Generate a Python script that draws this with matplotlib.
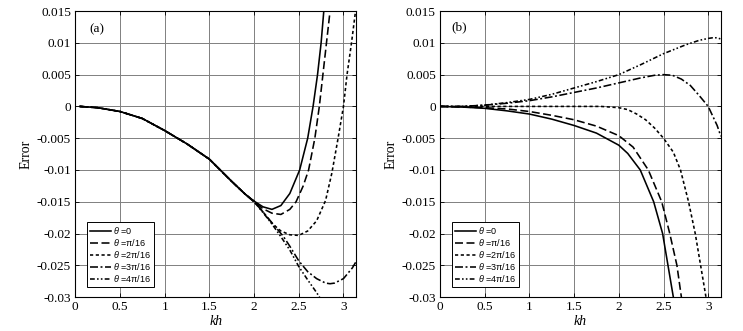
import matplotlib
matplotlib.use("Agg")
import matplotlib.pyplot as plt
import numpy as np

plt.rcParams['font.family'] = ['Liberation Serif', 'DejaVu Serif']
plt.rcParams['mathtext.fontset'] = 'custom'
plt.rcParams['mathtext.rm'] = 'Liberation Sans'
plt.rcParams['mathtext.it'] = 'Liberation Sans:italic'

# ---------------- data: panel (a) ----------------
common_kh = [0.05, 0.25, 0.5, 0.75, 1.0, 1.25, 1.5, 1.75, 1.9]
common_err = [0.0, -0.0002, -0.0008, -0.0019, -0.0038, -0.0059, -0.0083, -0.0118, -0.0138]

a0_kh = common_kh + [2.0, 2.1, 2.2, 2.3, 2.4, 2.51, 2.6, 2.66, 2.71, 2.75, 2.78]
a0_err = common_err + [-0.0149, -0.0158, -0.0162, -0.0156, -0.0137, -0.0100, -0.0050, 0.0, 0.0050, 0.0100, 0.0150]

a1_kh = common_kh + [2.0, 2.1, 2.2, 2.3, 2.4, 2.47, 2.55, 2.61, 2.68, 2.73, 2.77, 2.81, 2.85]
a1_err = common_err + [-0.0150, -0.0161, -0.0168, -0.0170, -0.0162, -0.0150, -0.0125, -0.0100, -0.0050, 0.0, 0.0050, 0.0100, 0.0150]

a2_kh = common_kh + [2.0, 2.1, 2.2, 2.3, 2.4, 2.5, 2.6, 2.7, 2.8, 2.87, 2.94, 3.0, 3.04, 3.09, 3.135]
a2_err = common_err + [-0.0149, -0.0166, -0.0184, -0.0196, -0.0202, -0.0203, -0.0196, -0.0180, -0.0148, -0.0105, -0.0050, 0.0, 0.0050, 0.0100, 0.0150]

a3_kh = common_kh + [2.0, 2.1, 2.2, 2.33, 2.4, 2.5, 2.6, 2.7, 2.8, 2.85, 2.9, 3.0, 3.1, 3.1416]
a3_err = common_err + [-0.0150, -0.0166, -0.0183, -0.0205, -0.0220, -0.0243, -0.0260, -0.0271, -0.0278, -0.0279, -0.0278, -0.0271, -0.0254, -0.0244]

a4_kh = common_kh + [2.0, 2.1, 2.2, 2.3, 2.4, 2.5, 2.6, 2.7, 2.74]
a4_err = common_err + [-0.0150, -0.0167, -0.0185, -0.0205, -0.0226, -0.0252, -0.0273, -0.0293, -0.0302]

# ---------------- data: panel (b) ----------------
b0_kh = [0, 0.25, 0.5, 0.75, 1.0, 1.25, 1.5, 1.75, 2.0, 2.1, 2.24, 2.39, 2.49, 2.55, 2.61]
b0_err = [0, -0.0001, -0.0003, -0.0007, -0.0012, -0.0020, -0.0030, -0.0042, -0.0061, -0.0074, -0.0100, -0.0150, -0.0200, -0.0250, -0.0300]

b1_kh = [0, 0.25, 0.5, 0.75, 1.0, 1.25, 1.5, 1.75, 2.0, 2.16, 2.33, 2.48, 2.57, 2.65, 2.70]
b1_err = [0, -0.0001, -0.0002, -0.0004, -0.0008, -0.0014, -0.0021, -0.0031, -0.0046, -0.0064, -0.0100, -0.0150, -0.0200, -0.0250, -0.0300]

b2_kh = [0, 0.5, 1.0, 1.5, 1.8, 1.9, 2.0, 2.1, 2.2, 2.3, 2.4, 2.5, 2.61, 2.69, 2.78, 2.855, 2.915, 2.975]
b2_err = [0, 0, 0, 0, 0, -0.0001, -0.0002, -0.0005, -0.0012, -0.0021, -0.0034, -0.0050, -0.0072, -0.0100, -0.0150, -0.0200, -0.0250, -0.0300]

b3_kh = [0, 0.25, 0.5, 0.75, 1.0, 1.25, 1.5, 1.75, 2.0, 2.25, 2.4, 2.5, 2.6, 2.7, 2.8, 2.9, 3.0, 3.1, 3.1416]
b3_err = [0, 0.0, 0.0002, 0.0005, 0.0009, 0.0015, 0.0022, 0.0029, 0.0037, 0.0045, 0.0049, 0.0050, 0.0049, 0.0043, 0.0033, 0.0017, 0.0, -0.0030, -0.0047]

b4_kh = [0, 0.25, 0.5, 0.75, 1.0, 1.25, 1.5, 1.75, 2.0, 2.25, 2.5, 2.75, 2.9, 3.0, 3.05, 3.1, 3.1416]
b4_err = [0, 0.0, 0.0002, 0.0006, 0.0011, 0.0019, 0.0029, 0.0039, 0.0050, 0.0066, 0.0083, 0.0097, 0.0104, 0.0107, 0.0108, 0.0108, 0.0106]

labels = [r"$\theta$ =0", r"$\theta$ =π/16", r"$\theta$ =2π/16", r"$\theta$ =3π/16", r"$\theta$ =4π/16"]
yticks = [-0.03, -0.025, -0.02, -0.015, -0.01, -0.005, 0, 0.005, 0.01, 0.015]
ytick_labels = ['-0.03', '-0.025', '-0.02', '-0.015', '-0.01', '-0.005', '0', '0.005', '0.01', '0.015']
xticks = [0, 0.5, 1, 1.5, 2, 2.5, 3]
xtick_labels = ['0', '0.5', '1', '1.5', '2', '2.5', '3']

styles = [
    dict(linestyle='-'),
    dict(linestyle=(0, (5, 2.2))),
    dict(linestyle=(0, (2, 1.6))),
    dict(linestyle=(0, (5, 1.6, 1.2, 1.6))),
    dict(linestyle=(0, (3, 1.4, 1.0, 1.4, 1.0, 1.4))),
]

fig = plt.figure(figsize=(7.43, 3.31), dpi=100)
ax_a = fig.add_axes([0.1013, 0.1025, 0.378, 0.864])
ax_b = fig.add_axes([0.5922, 0.1025, 0.378, 0.864])

panels = [
    (ax_a, [(a0_kh, a0_err), (a1_kh, a1_err), (a2_kh, a2_err), (a3_kh, a3_err), (a4_kh, a4_err)], '(a)', 0.077, 0.937),
    (ax_b, [(b0_kh, b0_err), (b1_kh, b1_err), (b2_kh, b2_err), (b3_kh, b3_err), (b4_kh, b4_err)], '(b)', 0.068, 0.945),
]

for ax, series, tag, tx, ty in panels:
    for (kh, err), lab, st in zip(series, labels, styles):
        ax.plot(kh, err, color='black', lw=1.15, label=lab, **st)
    ax.set_xlim(0, np.pi)
    ax.set_ylim(-0.03, 0.015)
    ax.set_xticks(xticks)
    ax.set_xticklabels(xtick_labels)
    ax.set_yticks(yticks)
    ax.set_yticklabels(ytick_labels)
    ax.grid(True, color='#808080', lw=0.7)
    ax.set_axisbelow(True)
    ax.tick_params(direction='in', length=3, width=0.6, labelsize=9.5,
                   top=True, right=True, pad=3)
    for sp in ax.spines.values():
        sp.set_linewidth(0.8)
        sp.set_color('black')
    ax.set_ylabel('Error', fontsize=10, labelpad=3)
    ax.set_xlabel('kh', fontsize=10, fontstyle='italic', labelpad=1)
    ax.text(tx, ty, tag, transform=ax.transAxes, fontsize=9.5, ha='center', va='center')
    leg = ax.legend(loc='lower left', bbox_to_anchor=(0.042, 0.035), borderaxespad=0,
                    prop={'family': 'Liberation Sans', 'size': 6.5},
                    handlelength=2.4, handletextpad=0.2, labelspacing=0.12,
                    borderpad=0.3, fancybox=False, framealpha=1, edgecolor='black')
    leg.get_frame().set_linewidth(0.7)

fig.savefig('out.png', dpi=100)
